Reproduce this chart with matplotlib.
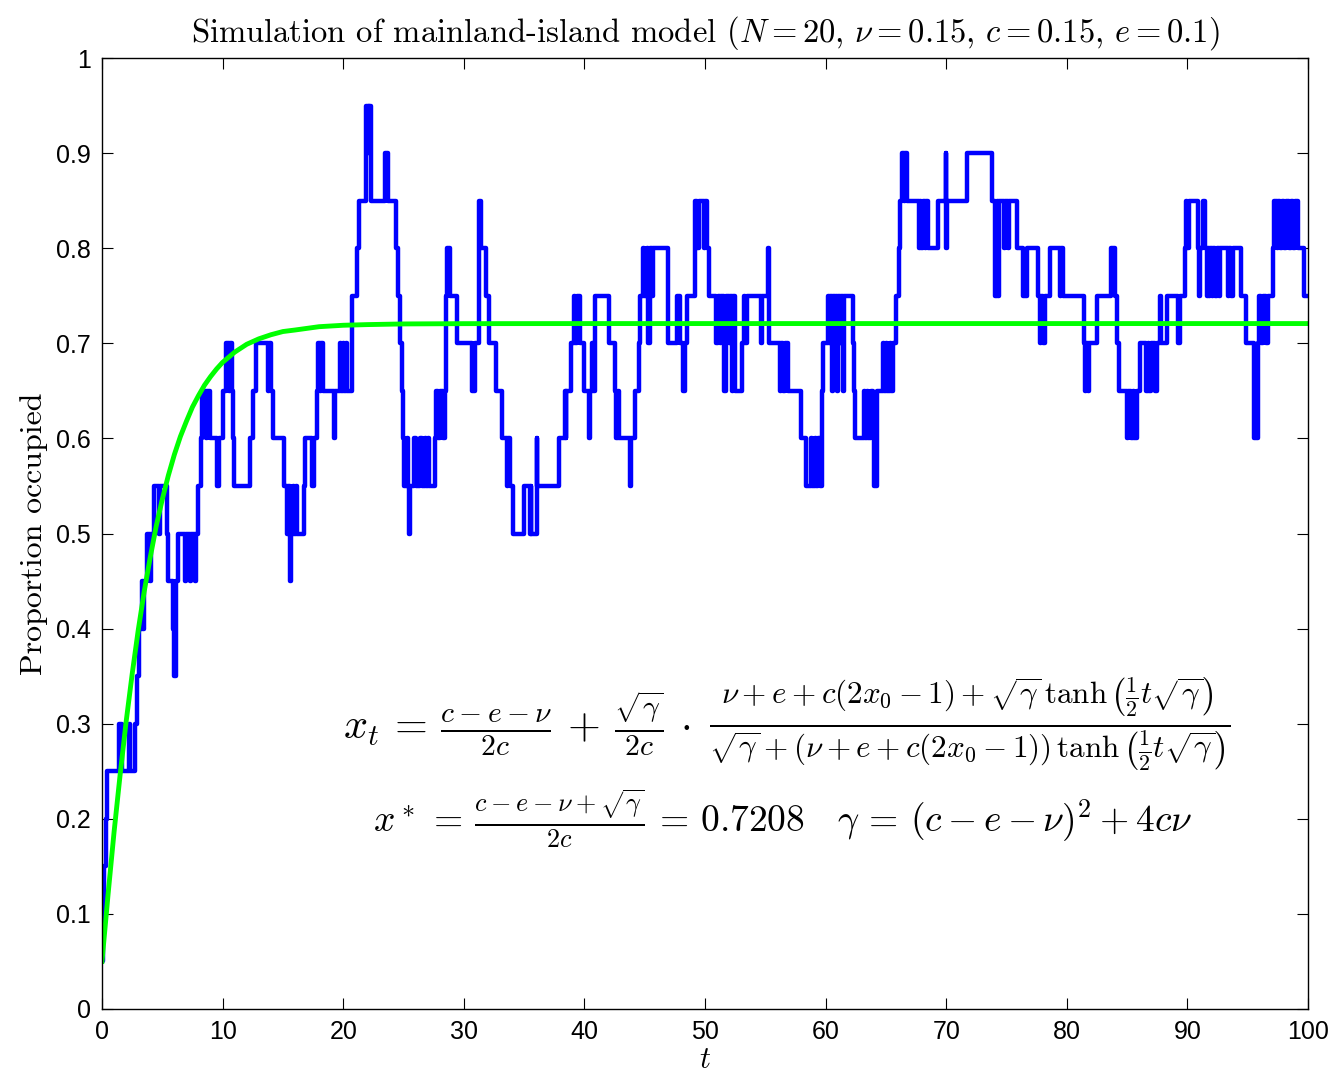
import numpy as np
import matplotlib
matplotlib.use('Agg')
import matplotlib.pyplot as plt

plt.rcParams['mathtext.fontset'] = 'cm'
plt.rcParams['axes.formatter.use_mathtext'] = True

# Simulated number of occupied islands (out of N = 20)
n_islands = 20
jump_times = [
    0.0, 0.1, 0.2, 0.3, 0.4, 1.45, 1.7, 2.2, 2.35, 2.7, 2.9, 3.1, 3.3, 3.4, 3.5, 3.7, 3.95, 4.1,
    4.35, 4.7, 4.8, 5.4, 5.5, 5.9, 6.0, 6.1, 6.3, 6.9, 7.0, 7.3, 7.4, 7.7, 7.8, 8.0, 8.2, 8.3,
    8.6, 8.7, 8.95, 9.55, 9.7, 10.0, 10.3, 10.5, 10.6, 10.75, 10.85, 10.95, 12.25, 12.5, 12.75,
    13.75, 13.85, 14.0, 14.2, 15.1, 15.3, 15.4, 15.55, 15.6, 15.7, 15.85, 15.95, 16.1, 16.2,
    16.75, 16.85, 17.4, 17.55, 17.8, 17.95, 18.05, 18.15, 18.3, 19.25, 19.35, 19.7, 19.8, 19.95,
    20.05, 20.2, 20.3, 20.7, 20.75, 21.15, 21.3, 21.85, 21.9, 22.1, 22.15, 22.3, 23.5, 23.7,
    24.35, 24.55, 24.7, 24.85, 24.95, 25.05, 25.3, 25.4, 25.45, 25.55, 25.9, 26.0, 26.4, 26.5,
    26.8, 26.9, 27.05, 27.15, 27.6, 27.7, 27.85, 28.0, 28.3, 28.4, 28.5, 28.6, 28.85, 29.45,
    30.65, 30.9, 31.25, 31.4, 31.8, 32.1, 32.65, 33.2, 33.6, 33.7, 33.8, 34.1, 34.95, 35.5,
    35.55, 35.6, 36.05, 36.1, 37.9, 38.35, 38.45, 38.5, 38.9, 39.1, 39.25, 39.35, 39.6, 39.95,
    40.4, 40.5, 40.6, 40.7, 40.85, 40.9, 42.0, 42.55, 42.65, 42.75, 42.85, 43.75, 43.85, 44.2,
    44.55, 44.65, 44.85, 44.95, 45.15, 45.3, 45.4, 45.6, 45.7, 46.95, 47.65, 47.95, 48.15,
    48.3, 48.5, 49.15, 49.3, 49.5, 49.9, 50.0, 50.15, 50.3, 50.95, 51.05, 51.25, 51.35, 51.6,
    51.7, 51.95, 52.05, 52.2, 52.3, 52.45, 53.05, 53.2, 53.3, 53.45, 54.65, 54.75, 55.2, 55.3,
    56.2, 56.3, 56.5, 56.6, 56.85, 58.0, 58.4, 58.8, 58.9, 59.1, 59.2, 59.4, 59.5, 59.7, 59.8,
    60.2, 60.3, 60.4, 60.5, 60.6, 60.75, 60.85, 60.95, 61.05, 61.2, 61.3, 61.45, 61.55, 62.25,
    62.35, 62.45, 63.2, 63.3, 63.45, 63.55, 63.75, 63.9, 64.0, 64.3, 64.75, 64.85, 65.0, 65.1,
    65.3, 65.4, 65.6, 65.8, 66.1, 66.2, 66.3, 66.5, 66.6, 66.75, 67.75, 67.85, 67.95, 68.05,
    68.2, 68.3, 68.45, 69.3, 69.95, 70.0, 70.1, 71.7, 73.8, 74.05, 74.2, 74.3, 74.4, 74.75,
    74.85, 75.1, 75.2, 75.9, 76.4, 76.7, 77.65, 77.75, 77.85, 78.0, 78.2, 78.6, 79.45, 79.55,
    79.65, 81.4, 81.5, 81.6, 81.75, 81.85, 82.5, 83.7, 84.0, 84.15, 84.3, 84.95, 85.1, 85.3,
    85.45, 85.6, 85.8, 86.1, 86.6, 86.7, 86.85, 87.0, 87.3, 87.45, 87.75, 87.85, 88.3, 89.25,
    89.35, 89.8, 89.9, 90.0, 90.1, 90.85, 90.95, 91.05, 91.3, 91.45, 91.6, 91.7, 91.8, 91.9,
    92.0, 92.15, 92.3, 92.45, 92.6, 92.7, 93.35, 93.45, 93.6, 93.75, 94.45, 94.85, 95.55,
    95.85, 95.95, 96.1, 96.3, 96.5, 96.65, 97.1, 97.2, 97.4, 97.5, 97.7, 97.8, 98.0, 98.2, 98.4,
    98.6, 98.75, 98.9, 99.2, 99.7, 100.0,
]
occupied = [
    1, 2, 3, 4, 5, 6, 5, 6, 5, 6, 7, 8, 9, 8, 9, 10, 9, 10,
    11, 10, 11, 10, 9, 8, 7, 9, 10, 9, 10, 9, 10, 9, 10, 11, 12, 13,
    12, 13, 12, 11, 12, 13, 14, 13, 14, 13, 12, 11, 12, 13, 14,
    13, 14, 13, 12, 11, 10, 11, 10, 9, 10, 11, 10, 11, 10,
    11, 12, 11, 12, 13, 14, 13, 14, 13, 12, 13, 14, 13, 14,
    13, 14, 13, 14, 15, 16, 17, 18, 19, 18, 19, 17, 18, 17,
    16, 15, 14, 13, 12, 11, 12, 11, 10, 11, 12, 11, 12, 11,
    12, 11, 12, 11, 12, 13, 12, 13, 12, 13, 15, 16, 15, 14,
    13, 14, 17, 16, 15, 14, 13, 12, 11, 12, 11, 10, 11, 10,
    11, 10, 12, 11, 12, 13, 12, 13, 14, 15, 14, 15, 14, 13,
    12, 13, 14, 13, 14, 15, 14, 13, 12, 13, 12, 11, 12, 13,
    14, 15, 16, 15, 16, 14, 16, 15, 16, 14, 15, 14, 13,
    14, 15, 17, 16, 17, 16, 17, 16, 15, 14, 15, 14, 15, 13,
    15, 14, 15, 13, 15, 13, 14, 15, 14, 15, 14, 15, 16, 14,
    13, 14, 13, 14, 13, 12, 11, 12, 11, 12, 11, 12, 11, 13, 14,
    15, 14, 15, 13, 15, 14, 15, 13, 15, 14, 15, 13, 15, 14,
    13, 12, 13, 12, 13, 12, 13, 12, 11, 13, 14, 13, 14, 13,
    14, 13, 14, 15, 16, 17, 18, 17, 18, 17, 16, 17, 16, 17,
    16, 17, 16, 17, 18, 16, 17, 18, 17, 15, 17, 15, 17, 16,
    17, 16, 17, 16, 15, 16, 15, 14, 15, 14, 15, 16, 15, 16,
    15, 14, 13, 14, 13, 14, 15, 16, 15, 14, 13, 12, 13, 12,
    13, 12, 13, 14, 13, 14, 13, 14, 13, 14, 15, 14, 15, 14,
    15, 16, 17, 16, 17, 16, 15, 16, 17, 16, 15, 16, 15, 16,
    15, 16, 15, 16, 15, 16, 15, 16, 15, 16, 15, 14, 12,
    14, 15, 14, 15, 14, 15, 16, 17, 16, 17, 16, 17, 16, 17, 16,
    17, 16, 17, 16, 15, 15,
]

# Deterministic approximation (green curve)
curve_t = [0, 0.5, 1, 1.5, 2, 2.5, 3, 3.5, 4, 4.5, 5, 5.5, 6, 6.5, 7, 7.5, 8, 8.5, 9, 9.5,
           10, 11, 12, 13, 14, 15, 16, 18, 20, 22, 25, 30, 40, 100]
curve_x = [0.05, 0.12, 0.186, 0.246, 0.302, 0.352, 0.398, 0.439, 0.475, 0.508, 0.536, 0.561,
           0.583, 0.602, 0.618, 0.633, 0.645, 0.656, 0.665, 0.673, 0.680, 0.6907, 0.699, 0.7047,
           0.709, 0.7124, 0.714, 0.7175, 0.719, 0.7197, 0.7204, 0.7207, 0.7208, 0.7208]

yticks = [0, 0.1, 0.2, 0.3, 0.4, 0.5, 0.6, 0.7, 0.8, 0.9, 1]
ytick_labels = ['0', '0.1', '0.2', '0.3', '0.4', '0.5', '0.6', '0.7', '0.8', '0.9', '1']
xticks = [0, 10, 20, 30, 40, 50, 60, 70, 80, 90, 100]

fig = plt.figure(figsize=(13.35, 10.75), dpi=100)
ax = fig.add_axes([0.0764, 0.0614, 0.9034, 0.8846])

prop = np.array(occupied) / n_islands
ax.step(jump_times, prop, where='post', color='#0000ff', linewidth=3.2)
ax.plot(curve_t, curve_x, color='#00ff00', linewidth=3.5)

ax.set_xlim(0, 100)
ax.set_ylim(0, 1)
ax.set_xticks(xticks)
ax.set_xticklabels([str(v) for v in xticks], fontfamily='Liberation Sans', fontsize=18)
ax.set_yticks(yticks)
ax.set_yticklabels(ytick_labels, fontfamily='Liberation Sans', fontsize=18)
ax.tick_params(direction='in', length=8, width=0.8, top=True, right=True)
ax.tick_params(axis='x', pad=8)
ax.tick_params(axis='y', pad=8)
for sp in ax.spines.values():
    sp.set_linewidth(1.0)

ax.set_title(r'Simulation of mainland-island model ($N=20$, $\nu=0.15$, $c=0.15$, $e=0.1$)',
             fontfamily='cmr10', fontsize=23.5, pad=12)
ax.set_ylabel('Proportion occupied', fontfamily='cmr10', fontsize=23, labelpad=6)
ax.set_xlabel(r'$t$', fontsize=22, labelpad=1)

eq1_left = r'$x_t\,=\,\frac{c-e-\nu}{2c}\,+\,\frac{\sqrt{\gamma}}{2c}\,\cdot$'
eq1_frac = (r'$\frac{\nu+e+c(2x_0-1)+\sqrt{\gamma}\,\tanh\left(\frac{1}{2}t\sqrt{\gamma}\right)}'
            r'{\sqrt{\gamma}+(\nu+e+c(2x_0-1))\,\tanh\left(\frac{1}{2}t\sqrt{\gamma}\right)}$')
eq2 = (r'$x^*\,=\,\frac{c-e-\nu+\sqrt{\gamma}}{2c}\,=\,0.7208\quad\gamma\,=\,(c-e-\nu)^2+4c\nu$')
ax.text(20.0, 0.3, eq1_left, fontsize=30.5, ha='left', va='center')
ax.text(50.3, 0.3, eq1_frac, fontsize=32, ha='left', va='center')
ax.text(56.4, 0.2, eq2, fontsize=27, ha='center', va='center')

fig.savefig('out.png', dpi=100)
